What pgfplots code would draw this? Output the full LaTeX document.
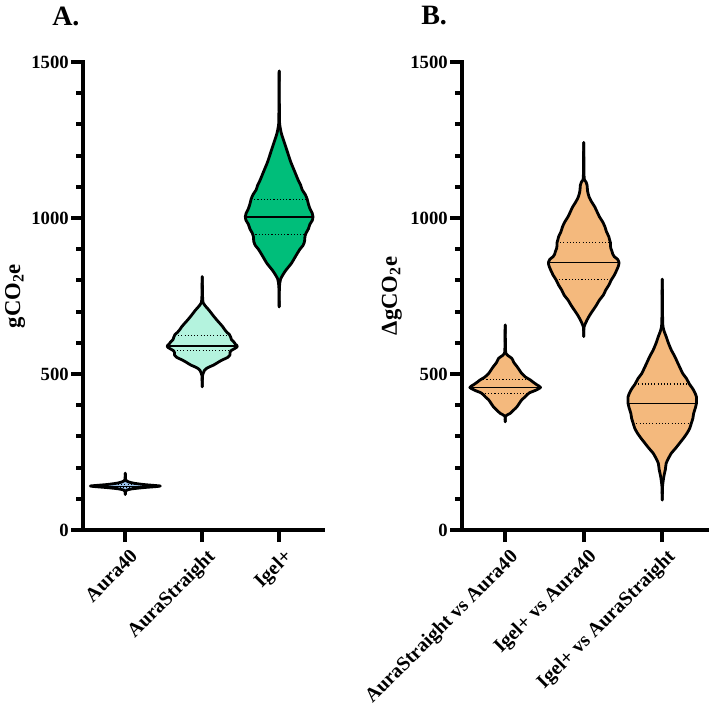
\documentclass[border=0pt]{standalone}
\usepackage{fontspec}
\setmainfont{Liberation Serif}
\usepackage{pgfplots}
\usepackage{pgfplotstable}
\pgfplotsset{compat=1.18}

\definecolor{cA40}{HTML}{9CC3EB}
\definecolor{cAS}{HTML}{B4F3DE}
\definecolor{cIG}{HTML}{00BE7A}
\definecolor{cB}{HTML}{F4B97D}

% violin profiles: y value, half width (axis units)
\pgfplotstableread{
y w
114 0
124 0.004
128 0.02
132 0.09
136 0.24
139 0.39
141 0.455
143 0.37
146 0.23
150 0.11
154 0.045
158 0.012
163 0.004
182 0
}\vAA

\pgfplotstableread{
y w
459 0
495 0.004
512 0.03
520 0.07
529 0.15
538 0.21
545 0.26
553 0.33
561 0.36
568 0.36
574 0.37
580 0.41
586 0.45
590 0.455
596 0.43
603 0.41
610 0.38
618 0.37
626 0.355
634 0.32
643 0.29
652 0.265
662 0.23
673 0.19
688 0.14
705 0.087
718 0.04
728 0.012
750 0.004
812 0
}\vAS

\pgfplotstableread{
y w
715 0
780 0.004
805 0.02
830 0.08
855 0.16
880 0.22
900 0.27
912 0.31
925 0.33
940 0.335
952 0.35
965 0.38
980 0.40
992 0.43
1004 0.44
1015 0.43
1030 0.40
1045 0.38
1060 0.365
1075 0.34
1090 0.30
1105 0.28
1120 0.25
1150 0.20
1180 0.15
1210 0.11
1240 0.07
1270 0.03
1295 0.01
1320 0.004
1471 0
}\vIG

\pgfplotstableread{
y w
347 0
365 0.004
374 0.064
385 0.11
395 0.15
406 0.18
417 0.21
426 0.25
434 0.28
440 0.31
447 0.38
457 0.45
466 0.40
475 0.35
481 0.32
490 0.26
502 0.21
513 0.18
524 0.15
537 0.11
550 0.085
560 0.03
566 0.01
580 0.004
657 0
}\vBa

\pgfplotstableread{
y w
620 0
650 0.004
673 0.042
690 0.08
705 0.12
720 0.16
737 0.20
753 0.25
769 0.28
785 0.32
801 0.35
817 0.39
833 0.42
845 0.44
857 0.45
868 0.43
876 0.39
884 0.37
893 0.36
903 0.345
912 0.34
921 0.34
930 0.33
940 0.32
956 0.29
972 0.27
988 0.24
1004 0.20
1020 0.17
1036 0.14
1052 0.10
1068 0.068
1085 0.05
1106 0.042
1115 0.03
1122 0.01
1140 0.004
1242 0
}\vBb

\pgfplotstableread{
y w
96 0
140 0.004
171 0.02
195 0.04
214 0.05
230 0.08
246 0.115
262 0.17
278 0.22
294 0.27
310 0.315
326 0.35
342 0.37
358 0.39
374 0.40
390 0.42
406 0.435
427 0.435
443 0.41
456 0.38
468 0.345
485 0.31
502 0.26
518 0.23
534 0.20
556 0.16
577 0.115
598 0.08
620 0.05
640 0.02
660 0.006
700 0.004
804 0
}\vBc

\newcommand{\violin}[3]{%
  \addplot[fill=#3, draw=none, smooth, tension=0.4] table[x expr=#2+\thisrow{w}, y=y]{#1};
  \addplot[fill=#3, draw=none, smooth, tension=0.4] table[x expr=#2-\thisrow{w}, y=y]{#1};
  \addplot[draw=#3, line width=1pt] table[x expr=#2, y=y]{#1};
  \addplot[draw=black, line width=2.1pt, line join=round, line cap=round, smooth, tension=0.4] table[x expr=#2+\thisrow{w}, y=y]{#1};
  \addplot[draw=black, line width=2.1pt, line join=round, line cap=round, smooth, tension=0.4] table[x expr=#2-\thisrow{w}, y=y]{#1};
}

\pgfplotsset{
  violinaxis/.style={
    scale only axis,
    ymin=0, ymax=1500, xmin=-0.55, xmax=2.57,
    axis x line*=bottom, axis y line*=left,
    axis line style={line width=3pt, line cap=rect, -},
    ytick={0,500,1000,1500},
    minor ytick={100,200,300,400,600,700,800,900,1100,1200,1300,1400},
    xtick={0,1,2},
    tick align=outside,
    major tick length=9pt, minor tick length=5pt,
    every tick/.style={line width=3pt, black},
    major tick style={line width=3pt, black},
    minor tick style={line width=3pt, black},
    /pgf/number format/assume math mode=true,
    /pgf/number format/1000 sep={},
    yticklabel style={font=\bfseries\fontsize{14}{14}\selectfont, inner sep=1.5pt},
    xticklabel style={font=\bfseries\fontsize{15}{15}\selectfont, rotate=45, anchor=north east, inner sep=2pt, yshift=-3pt, xshift=1pt},
    ylabel style={font=\bfseries\fontsize{17}{17}\selectfont, anchor=center},
    median/.style={black, line width=0.9pt},
    quart/.style={black, line width=0.8pt, dash pattern=on 0.8pt off 1.6pt},
  }
}

\begin{document}
\begin{tikzpicture}
\useasboundingbox (0,0) rectangle (531.75pt,-529.5pt);

\node[anchor=base west, inner sep=0, font=\bfseries\fontsize{21}{21}\selectfont] at (52*0.75pt,-26*0.75pt) {A.};
\node[anchor=base west, inner sep=0, font=\bfseries\fontsize{21}{21}\selectfont] at (421*0.75pt,-25*0.75pt) {B.};

\begin{axis}[violinaxis,
  at={(62.25pt,-397.5pt)}, anchor=south west,
  width=180pt, height=351pt,
  xticklabels={Aura40, AuraStraight, Igel+},
  ylabel={gCO\textsubscript{2}e},
  ylabel style={at={(axis description cs:-0.283,0.5)}},
]
\violin{\vAA}{0}{cA40}
\violin{\vAS}{1}{cAS}
\violin{\vIG}{2}{cIG}
% medians and quartiles
\addplot[median] coordinates {(-0.44,140) (0.44,140)};
\addplot[quart] coordinates {(-0.24,136) (0.24,136)};
\addplot[quart] coordinates {(-0.22,146) (0.22,146)};
\addplot[median] coordinates {(0.55,590) (1.45,590)};
\addplot[quart] coordinates {(0.645,622) (1.355,622)};
\addplot[quart] coordinates {(0.63,574) (1.37,574)};
\addplot[median] coordinates {(1.56,1003) (2.44,1003)};
\addplot[quart] coordinates {(1.635,1060) (2.365,1060)};
\addplot[quart] coordinates {(1.65,946) (2.35,946)};
\end{axis}

\begin{axis}[violinaxis,
  at={(346.5pt,-397.5pt)}, anchor=south west,
  width=183.75pt, height=351pt,
  xticklabels={AuraStraight vs Aura40, Igel+ vs Aura40, Igel+ vs AuraStraight},
  ylabel={ΔgCO\textsubscript{2}e},
  ylabel style={at={(axis description cs:-0.286,0.5)}},
]
\violin{\vBa}{0}{cB}
\violin{\vBb}{1}{cB}
\violin{\vBc}{2}{cB}
\addplot[median] coordinates {(-0.45,457) (0.45,457)};
\addplot[quart] coordinates {(-0.32,481) (0.32,481)};
\addplot[quart] coordinates {(-0.30,438) (0.30,438)};
\addplot[median] coordinates {(0.55,857) (1.45,857)};
\addplot[quart] coordinates {(0.66,921) (1.34,921)};
\addplot[quart] coordinates {(0.645,803) (1.355,803)};
\addplot[median] coordinates {(1.565,406) (2.435,406)};
\addplot[quart] coordinates {(1.655,468) (2.345,468)};
\addplot[quart] coordinates {(1.63,342) (2.37,342)};
\end{axis}
\end{tikzpicture}
\end{document}
